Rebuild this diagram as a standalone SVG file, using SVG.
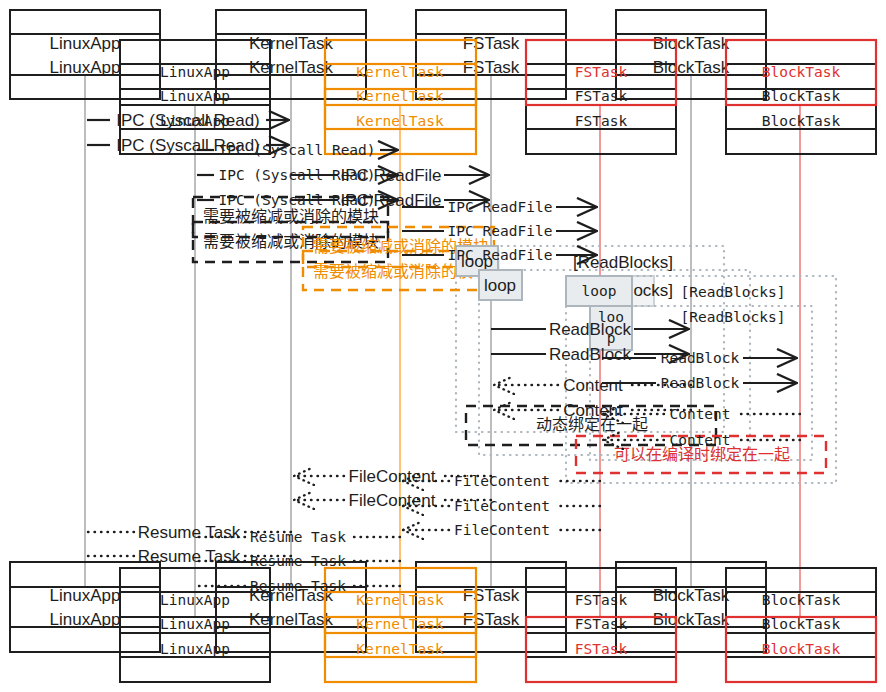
<svg xmlns="http://www.w3.org/2000/svg" width="886" height="692" viewBox="0 0 886 692">
<defs>
<style>
.bx{fill:none;stroke:#1e1e1e;stroke-width:2}
.bo{fill:none;stroke:#f08c00;stroke-width:2.2}
.br{fill:none;stroke:#e03131;stroke-width:2.2}
.ll{stroke:#bdbdbd;stroke-width:2}
.llo{stroke:#ffc078;stroke-width:2}
.llr{stroke:#f19a9a;stroke-width:2}
.ts{font-family:"Liberation Sans","Noto Sans CJK SC",sans-serif;font-size:17px;fill:#1e1e1e;text-anchor:middle;dominant-baseline:central}
.tm{font-family:"DejaVu Sans Mono","Noto Sans CJK SC",monospace;font-size:14.5px;fill:#1e1e1e;text-anchor:middle;dominant-baseline:central}
.tc{font-family:"Noto Sans CJK SC",sans-serif;font-size:16px;fill:#1e1e1e;text-anchor:middle;dominant-baseline:central}
.o{fill:#f08c00}
.r{fill:#e03131}
.ms{fill:none;stroke:#1e1e1e;stroke-width:2.2}
.md{fill:none;stroke:#1e1e1e;stroke-width:2.4;stroke-dasharray:0.5 6;stroke-linecap:round}
.lf{fill:none;stroke:#adb5bd;stroke-width:2.2;stroke-dasharray:0.5 6;stroke-linecap:round}
.lb{fill:#e9ecef;stroke:#adb5bd;stroke-width:2}
.nk{fill:none;stroke:#1e1e1e;stroke-width:2.4;stroke-dasharray:10 7}
.no{fill:none;stroke:#f08c00;stroke-width:2.4;stroke-dasharray:10 7}
.nr{fill:none;stroke:#e03131;stroke-width:2.4;stroke-dasharray:10 7}
</style>
<marker id="ah" viewBox="0 0 22 20" refX="21" refY="10" markerWidth="22" markerHeight="20" markerUnits="userSpaceOnUse" orient="auto">
<path d="M1,1 L21,10 L1,19" fill="none" stroke="#1e1e1e" stroke-width="2.4"/>
</marker>
<marker id="ahd" viewBox="0 0 22 20" refX="21" refY="10" markerWidth="22" markerHeight="20" markerUnits="userSpaceOnUse" orient="auto">
<path d="M1,1 L21,10 L1,19" fill="none" stroke="#1e1e1e" stroke-width="2.4" stroke-dasharray="0.5 5" stroke-linecap="round"/>
</marker>
</defs>
<rect width="886" height="692" fill="#ffffff"/>

<g id="lifelines">
<line class="ll" x1="85" y1="75" x2="85" y2="587"/>
<line class="ll" x1="291" y1="75" x2="291" y2="587"/>
<line class="ll" x1="491" y1="75" x2="491" y2="587"/>
<line class="ll" x1="691" y1="75" x2="691" y2="587"/>
<line class="ll" x1="195" y1="105" x2="195" y2="617"/>
<line class="llo" x1="400" y1="105" x2="400" y2="617"/>
<line class="llr" x1="600" y1="105" x2="600" y2="617"/>
<line class="llr" x1="800" y1="105" x2="800" y2="617"/>
</g>

<g id="loop-frames">
<rect class="lf" x="456" y="246" width="268" height="186"/>
<rect class="lf" x="479" y="270" width="271" height="185"/>
<rect class="lf" x="566" y="276" width="270" height="207"/>
<rect class="lf" x="590" y="306" width="222" height="154"/>
</g>

<g id="a-linuxapp">
<rect class="bx" x="10" y="10" width="150" height="65"/>
<rect class="bx" x="10" y="34" width="150" height="65"/>
<rect class="bx" x="10" y="562" width="150" height="65"/>
<rect class="bx" x="10" y="587" width="150" height="65"/>
<text class="ts" x="85" y="43">LinuxApp</text><text class="ts" x="85" y="67">LinuxApp</text>
<text class="ts" x="85" y="595">LinuxApp</text><text class="ts" x="85" y="619">LinuxApp</text>
</g>
<g id="a-kerneltask">
<rect class="bx" x="216" y="10" width="150" height="65"/>
<rect class="bx" x="216" y="34" width="150" height="65"/>
<rect class="bx" x="216" y="562" width="150" height="65"/>
<rect class="bx" x="216" y="587" width="150" height="65"/>
<text class="ts" x="291" y="43">KernelTask</text><text class="ts" x="291" y="67">KernelTask</text>
<text class="ts" x="291" y="595">KernelTask</text><text class="ts" x="291" y="619">KernelTask</text>
</g>
<g id="a-fstask">
<rect class="bx" x="416" y="10" width="150" height="65"/>
<rect class="bx" x="416" y="34" width="150" height="65"/>
<rect class="bx" x="416" y="562" width="150" height="65"/>
<rect class="bx" x="416" y="587" width="150" height="65"/>
<text class="ts" x="491" y="43">FSTask</text><text class="ts" x="491" y="67">FSTask</text>
<text class="ts" x="491" y="595">FSTask</text><text class="ts" x="491" y="619">FSTask</text>
</g>
<g id="a-blocktask">
<rect class="bx" x="616" y="10" width="150" height="65"/>
<rect class="bx" x="616" y="34" width="150" height="65"/>
<rect class="bx" x="616" y="562" width="150" height="65"/>
<rect class="bx" x="616" y="587" width="150" height="65"/>
<text class="ts" x="691" y="43">BlockTask</text><text class="ts" x="691" y="67">BlockTask</text>
<text class="ts" x="691" y="595">BlockTask</text><text class="ts" x="691" y="619">BlockTask</text>
</g>

<g id="b-linuxapp">
<rect class="bx" x="120" y="40" width="150" height="65"/>
<rect class="bx" x="120" y="64" width="150" height="65"/>
<rect class="bx" x="120" y="89" width="150" height="65"/>
<rect class="bx" x="120" y="568" width="150" height="65"/>
<rect class="bx" x="120" y="592" width="150" height="65"/>
<rect class="bx" x="120" y="617" width="150" height="65"/>
<text class="tm" x="195" y="72">LinuxApp</text><text class="tm" x="195" y="96">LinuxApp</text><text class="tm" x="195" y="121">LinuxApp</text>
<text class="tm" x="195" y="600">LinuxApp</text><text class="tm" x="195" y="624">LinuxApp</text><text class="tm" x="195" y="649">LinuxApp</text>
</g>
<g id="b-kerneltask">
<rect class="bo" x="325" y="40" width="151" height="65"/>
<rect class="bo" x="325" y="64" width="151" height="65"/>
<rect class="bo" x="325" y="89" width="151" height="65"/>
<rect class="bo" x="325" y="568" width="151" height="65"/>
<rect class="bo" x="325" y="592" width="151" height="65"/>
<rect class="bo" x="325" y="617" width="151" height="65"/>
<text class="tm o" x="400" y="72">KernelTask</text><text class="tm o" x="400" y="96">KernelTask</text><text class="tm o" x="400" y="121">KernelTask</text>
<text class="tm o" x="400" y="600">KernelTask</text><text class="tm o" x="400" y="624">KernelTask</text><text class="tm o" x="400" y="649">KernelTask</text>
</g>
<g id="b-fstask">
<rect class="bx" x="526" y="64" width="150" height="65"/>
<rect class="bx" x="526" y="89" width="150" height="65"/>
<rect class="bx" x="526" y="568" width="150" height="65"/>
<rect class="bx" x="526" y="592" width="150" height="65"/>
<rect class="br" x="526" y="40" width="150" height="65"/>
<rect class="br" x="526" y="617" width="150" height="65"/>
<text class="tm r" x="601" y="72">FSTask</text><text class="tm" x="601" y="96">FSTask</text><text class="tm" x="601" y="121">FSTask</text>
<text class="tm" x="601" y="600">FSTask</text><text class="tm" x="601" y="624">FSTask</text><text class="tm r" x="601" y="649">FSTask</text>
</g>
<g id="b-blocktask">
<rect class="bx" x="726" y="64" width="150" height="65"/>
<rect class="bx" x="726" y="89" width="150" height="65"/>
<rect class="bx" x="726" y="568" width="150" height="65"/>
<rect class="bx" x="726" y="592" width="150" height="65"/>
<rect class="br" x="726" y="40" width="150" height="65"/>
<rect class="br" x="726" y="617" width="150" height="65"/>
<text class="tm r" x="801" y="72">BlockTask</text><text class="tm" x="801" y="96">BlockTask</text><text class="tm" x="801" y="121">BlockTask</text>
<text class="tm" x="801" y="600">BlockTask</text><text class="tm" x="801" y="624">BlockTask</text><text class="tm r" x="801" y="649">BlockTask</text>
</g>

<g id="notes">
<rect class="nk" x="193" y="197" width="195" height="40"/>
<rect class="nk" x="193" y="222" width="195" height="40"/>
<text class="tc" x="291" y="215">需要被缩减或消除的模块</text>
<text class="tc" x="291" y="240">需要被缩减或消除的模块</text>
<rect class="no" x="303" y="227" width="191" height="40"/>
<rect class="no" x="303" y="251" width="195" height="39"/>
<text class="tc o" x="401" y="245">需要被缩减或消除的模块</text>
<text class="tc o" x="401" y="270">需要被缩减或消除的模块</text>
<rect class="nk" x="466" y="406" width="250" height="39"/>
<text class="tc" x="592" y="423">动态绑定在一起</text>
<rect class="nr" x="576" y="436" width="250" height="37"/>
<text class="tc r" x="702" y="453">可以在编译时绑定在一起</text>
</g>

<g id="loop-labels">
<text class="ts" x="623" y="262">[ReadBlocks]</text>
<rect class="lb" x="632" y="276" width="22" height="30" opacity="0.6"/>
<text class="ts" x="623" y="290">[ReadBlocks]</text>
<rect class="lb" x="456" y="246" width="42" height="30"/>
<text class="ts" x="477" y="261">loop</text>
<rect class="lb" x="479" y="270" width="43" height="30"/>
<text class="ts" x="500" y="285">loop</text>
<rect class="lb" x="566" y="276" width="66" height="30"/>
<text class="tm" x="599" y="291">loop</text>
<rect class="lb" x="590" y="306" width="42" height="44"/>
<text class="tm" x="611" y="317">loo</text>
<text class="tm" x="611" y="338">p</text>
<text class="tm" x="733" y="292">[ReadBlocks]</text>
<text class="tm" x="733" y="317">[ReadBlocks]</text>
</g>

<g id="connectors">
<line class="ms" x1="87" y1="120" x2="110" y2="120"/><line class="ms" x1="266" y1="120" x2="289" y2="120" marker-end="url(#ah)"/>
<text class="ts" x="188" y="120">IPC (Syscall Read)</text>
<line class="ms" x1="87" y1="145" x2="110" y2="145"/><line class="ms" x1="266" y1="145" x2="289" y2="145" marker-end="url(#ah)"/>
<text class="ts" x="188" y="145">IPC (Syscall Read)</text>
<line class="ms" x1="291" y1="175" x2="338" y2="175"/><line class="ms" x1="444" y1="175" x2="489" y2="175" marker-end="url(#ah)"/>
<text class="ts" x="391" y="175">IPC ReadFile</text>
<line class="ms" x1="291" y1="200" x2="338" y2="200"/><line class="ms" x1="444" y1="200" x2="489" y2="200" marker-end="url(#ah)"/>
<text class="ts" x="391" y="200">IPC ReadFile</text>
<line class="ms" x1="491" y1="329" x2="546" y2="329"/><line class="ms" x1="634" y1="329" x2="689" y2="329" marker-end="url(#ah)"/>
<text class="ts" x="590" y="329">ReadBlock</text>
<line class="ms" x1="491" y1="354" x2="546" y2="354"/><line class="ms" x1="634" y1="354" x2="689" y2="354" marker-end="url(#ah)"/>
<text class="ts" x="590" y="354">ReadBlock</text>
<line class="md" x1="691" y1="385" x2="628" y2="385"/><line class="md" x1="558" y1="385" x2="494" y2="385" marker-end="url(#ahd)"/>
<text class="ts" x="593" y="385">Content</text>
<line class="md" x1="691" y1="410" x2="628" y2="410"/><line class="md" x1="558" y1="410" x2="494" y2="410" marker-end="url(#ahd)"/>
<text class="ts" x="593" y="410">Content</text>
<line class="md" x1="491" y1="476" x2="440" y2="476"/><line class="md" x1="344" y1="476" x2="294" y2="476" marker-end="url(#ahd)"/>
<text class="ts" x="392" y="476">FileContent</text>
<line class="md" x1="491" y1="500" x2="440" y2="500"/><line class="md" x1="344" y1="500" x2="294" y2="500" marker-end="url(#ahd)"/>
<text class="ts" x="392" y="500">FileContent</text>
<line class="md" x1="291" y1="532" x2="244" y2="532"/><line class="md" x1="134" y1="532" x2="87" y2="532"/>
<text class="ts" x="189" y="532">Resume Task</text>
<line class="md" x1="291" y1="556" x2="244" y2="556"/><line class="md" x1="134" y1="556" x2="87" y2="556"/>
<text class="ts" x="189" y="556">Resume Task</text>
<line class="ms" x1="197" y1="150" x2="214" y2="150"/><line class="ms" x1="380" y1="150" x2="398" y2="150" marker-end="url(#ah)"/>
<text class="tm" x="297" y="150">IPC (Syscall Read)</text>
<line class="ms" x1="197" y1="175" x2="214" y2="175"/><line class="ms" x1="380" y1="175" x2="398" y2="175" marker-end="url(#ah)"/>
<text class="tm" x="297" y="175">IPC (Syscall Read)</text>
<line class="ms" x1="197" y1="200" x2="214" y2="200"/><line class="ms" x1="380" y1="200" x2="398" y2="200" marker-end="url(#ah)"/>
<text class="tm" x="297" y="200">IPC (Syscall Read)</text>
<line class="ms" x1="402" y1="207" x2="444" y2="207"/><line class="ms" x1="556" y1="207" x2="597" y2="207" marker-end="url(#ah)"/>
<text class="tm" x="500" y="207">IPC ReadFile</text>
<line class="ms" x1="402" y1="231" x2="444" y2="231"/><line class="ms" x1="556" y1="231" x2="597" y2="231" marker-end="url(#ah)"/>
<text class="tm" x="500" y="231">IPC ReadFile</text>
<line class="ms" x1="402" y1="255" x2="444" y2="255"/><line class="ms" x1="556" y1="255" x2="597" y2="255" marker-end="url(#ah)"/>
<text class="tm" x="500" y="255">IPC ReadFile</text>
<line class="ms" x1="602" y1="358" x2="656" y2="358"/><line class="ms" x1="743" y1="358" x2="797" y2="358" marker-end="url(#ah)"/>
<text class="tm" x="700" y="358">ReadBlock</text>
<line class="ms" x1="602" y1="383" x2="656" y2="383"/><line class="ms" x1="743" y1="383" x2="797" y2="383" marker-end="url(#ah)"/>
<text class="tm" x="700" y="383">ReadBlock</text>
<line class="md" x1="800" y1="414" x2="738" y2="414"/><line class="md" x1="664" y1="414" x2="603" y2="414" marker-end="url(#ahd)"/>
<text class="tm" x="700" y="414">Content</text>
<line class="md" x1="800" y1="440" x2="738" y2="440"/><line class="md" x1="664" y1="440" x2="603" y2="440" marker-end="url(#ahd)"/>
<text class="tm" x="700" y="440">Content</text>
<line class="md" x1="600" y1="481" x2="556" y2="481"/><line class="md" x1="449" y1="481" x2="403" y2="481" marker-end="url(#ahd)"/>
<text class="tm" x="502" y="481">FileContent</text>
<line class="md" x1="600" y1="506" x2="556" y2="506"/><line class="md" x1="449" y1="506" x2="403" y2="506" marker-end="url(#ahd)"/>
<text class="tm" x="502" y="506">FileContent</text>
<line class="md" x1="600" y1="530" x2="556" y2="530"/><line class="md" x1="449" y1="530" x2="403" y2="530" marker-end="url(#ahd)"/>
<text class="tm" x="502" y="530">FileContent</text>
<line class="md" x1="400" y1="537" x2="352" y2="537"/><line class="md" x1="245" y1="537" x2="197" y2="537"/>
<text class="tm" x="298" y="537">Resume Task</text>
<line class="md" x1="400" y1="561" x2="352" y2="561"/><line class="md" x1="245" y1="561" x2="197" y2="561"/>
<text class="tm" x="298" y="561">Resume Task</text>
<line class="md" x1="400" y1="586" x2="352" y2="586"/><line class="md" x1="245" y1="586" x2="197" y2="586"/>
<text class="tm" x="298" y="586">Resume Task</text>
</g>
</svg>
